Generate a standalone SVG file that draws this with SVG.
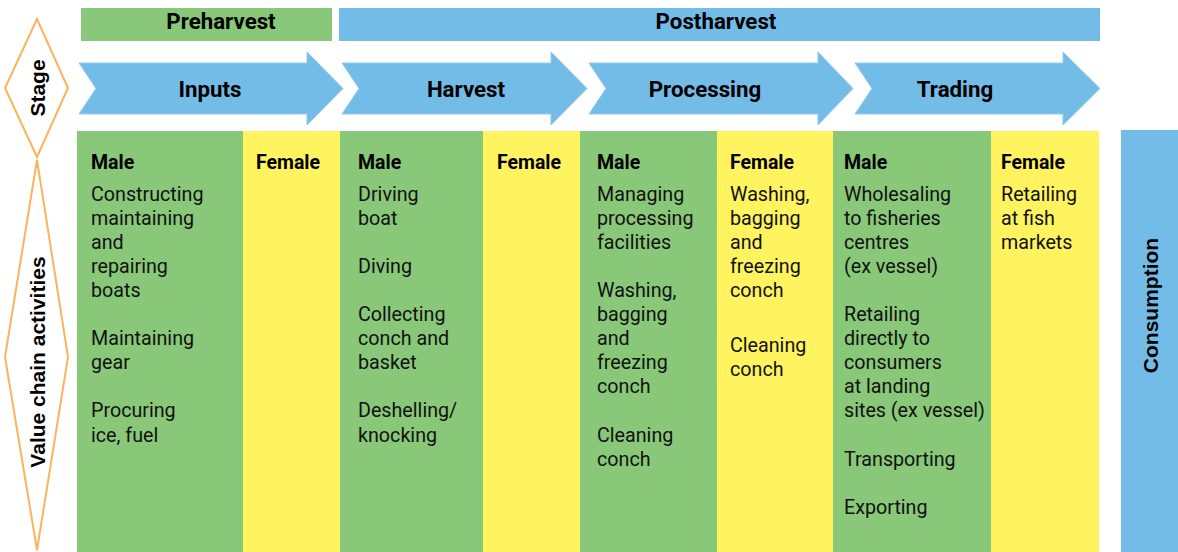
<svg xmlns="http://www.w3.org/2000/svg" width="1178" height="552" viewBox="0 0 1178 552">
<style>
.green{fill:#88C878}
.yellow{fill:#FFF35F}
.blue{fill:#74BCE8}
.arrow{fill:#74BCE8;stroke:#8FCBEE;stroke-width:1}
.diamond{fill:#FFFFFF;stroke:#FBB35E;stroke-width:2}
.big{font-family:Roboto,"Liberation Sans",sans-serif;font-weight:bold;font-size:22.3px;fill:#000;text-anchor:middle}
.side{font-family:"Liberation Sans",Arial,sans-serif;font-weight:bold;font-size:21px;fill:#000;text-anchor:middle}
.hd{font-family:Roboto,"Liberation Sans",sans-serif;font-weight:bold;font-size:19.5px;fill:#000}
.tx{font-family:Roboto,"Liberation Sans",sans-serif;font-size:19.7px;fill:#111}
</style>
<rect width="1178" height="552" fill="#FFFFFF"/>
<g id="preharvest"><rect class="green" x="81" y="8" width="251" height="33"/><text class="big" x="221" y="29">Preharvest</text></g>
<g id="postharvest"><rect class="blue" x="339" y="8" width="761" height="33"/><text class="big" x="716" y="29">Postharvest</text></g>
<g id="stage"><polygon class="diamond" points="37,19 68,88 37,157 5,88"/><text class="side" transform="translate(44.5,88) rotate(-90)">Stage</text></g>
<g id="value-chain"><polygon class="diamond" points="37,160 68,357 37,550 5,357"/><text class="side" transform="translate(44.5,362) rotate(-90)">Value chain activities</text></g>
<g id="inputs"><polygon class="arrow" points="79,63 307,63 307,52 343,88.5 307,125 307,114 79,114 96,88.5"/><text class="big" x="210" y="97">Inputs</text></g>
<g id="harvest"><polygon class="arrow" points="342,63 551,63 551,52 587,88.5 551,125 551,114 342,114 359,88.5"/><text class="big" x="466" y="97">Harvest</text></g>
<g id="processing"><polygon class="arrow" points="589,63 818,63 818,52 853,88.5 818,125 818,114 589,114 606,88.5"/><text class="big" x="705" y="97">Processing</text></g>
<g id="trading"><polygon class="arrow" points="855,63 1063,63 1063,52 1100,88.5 1063,125 1063,114 855,114 872,88.5"/><text class="big" x="955" y="97">Trading</text></g>
<g id="inputs-male"><rect class="green" x="77" y="131" width="166" height="421"/><text class="hd" x="91" y="169">Male</text>
<text class="tx" x="91" y="200.5"><tspan x="91">Constructing</tspan><tspan x="91" dy="24.1">maintaining</tspan><tspan x="91" dy="24.1">and</tspan><tspan x="91" dy="24.1">repairing</tspan><tspan x="91" dy="24.1">boats</tspan><tspan x="91" dy="48.2">Maintaining</tspan><tspan x="91" dy="24.1">gear</tspan><tspan x="91" dy="48.2">Procuring</tspan><tspan x="91" dy="24.1">ice, fuel</tspan></text></g>
<g id="inputs-female"><rect class="yellow" x="243" y="131" width="97" height="421"/><text class="hd" x="256" y="169">Female</text></g>
<g id="harvest-male"><rect class="green" x="340" y="131" width="143" height="421"/><text class="hd" x="358" y="169">Male</text>
<text class="tx" x="358" y="200.5"><tspan x="358">Driving</tspan><tspan x="358" dy="24.1">boat</tspan><tspan x="358" dy="48.2">Diving</tspan><tspan x="358" dy="48.2">Collecting</tspan><tspan x="358" dy="24.1">conch and</tspan><tspan x="358" dy="24.1">basket</tspan><tspan x="358" dy="48.2">Deshelling/</tspan><tspan x="358" dy="24.1">knocking</tspan></text></g>
<g id="harvest-female"><rect class="yellow" x="483" y="131" width="97" height="421"/><text class="hd" x="497" y="169">Female</text></g>
<g id="processing-male"><rect class="green" x="580" y="131" width="137" height="421"/><text class="hd" x="597" y="169">Male</text>
<text class="tx" x="597" y="200.5"><tspan x="597">Managing</tspan><tspan x="597" dy="24.1">processing</tspan><tspan x="597" dy="24.1">facilities</tspan><tspan x="597" dy="48.2">Washing,</tspan><tspan x="597" dy="24.1">bagging</tspan><tspan x="597" dy="24.1">and</tspan><tspan x="597" dy="24.1">freezing</tspan><tspan x="597" dy="24.1">conch</tspan><tspan x="597" dy="48.2">Cleaning</tspan><tspan x="597" dy="24.1">conch</tspan></text></g>
<g id="processing-female"><rect class="yellow" x="717" y="131" width="116" height="421"/><text class="hd" x="730" y="169">Female</text>
<text class="tx" x="730" y="200.5"><tspan x="730">Washing,</tspan><tspan x="730" dy="24.1">bagging</tspan><tspan x="730" dy="24.1">and</tspan><tspan x="730" dy="24.1">freezing</tspan><tspan x="730" dy="24.1">conch</tspan><tspan x="730" dy="55">Cleaning</tspan><tspan x="730" dy="24.1">conch</tspan></text></g>
<g id="trading-male"><rect class="green" x="833" y="131" width="158" height="421"/><text class="hd" x="844" y="169">Male</text>
<text class="tx" x="844" y="200.5"><tspan x="844">Wholesaling</tspan><tspan x="844" dy="24.1">to fisheries</tspan><tspan x="844" dy="24.1">centres</tspan><tspan x="844" dy="24.1">(ex vessel)</tspan><tspan x="844" dy="48.2">Retailing</tspan><tspan x="844" dy="24.1">directly to</tspan><tspan x="844" dy="24.1">consumers</tspan><tspan x="844" dy="24.1">at landing</tspan><tspan x="844" dy="24.1">sites (ex vessel)</tspan><tspan x="844" dy="48.2">Transporting</tspan><tspan x="844" dy="48.2">Exporting</tspan></text></g>
<g id="trading-female"><rect class="yellow" x="991" y="131" width="108" height="421"/><text class="hd" x="1001" y="169">Female</text>
<text class="tx" x="1001" y="200.5"><tspan x="1001">Retailing</tspan><tspan x="1001" dy="24.1">at fish</tspan><tspan x="1001" dy="24.1">markets</tspan></text></g>
<g id="consumption"><rect class="blue" x="1121" y="130" width="57" height="422"/><text class="side" transform="translate(1157.5,305.5) rotate(-90)">Consumption</text></g>
<g id="connectors"></g>
</svg>
